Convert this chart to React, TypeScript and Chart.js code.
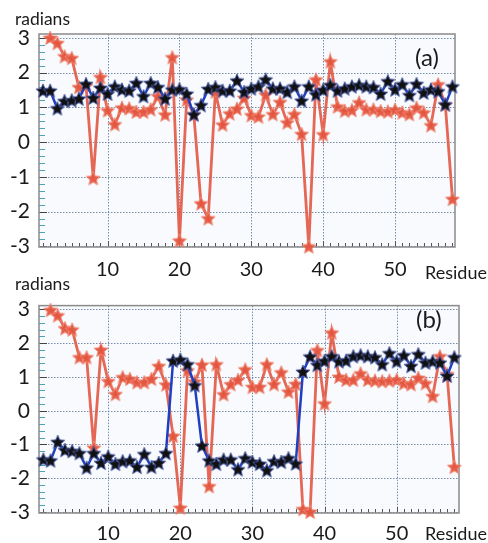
import React, { useEffect, useRef } from 'react';
import { Chart, registerables } from 'chart.js';
Chart.register(...registerables);

const residues = [1,2,3,4,5,6,7,8,9,10,11,12,13,14,15,16,17,18,19,20,21,22,23,24,25,26,27,28,29,30,31,32,33,34,35,36,37,38,39,40,41,42,43,44,45,46,47,48,49,50,51,52,53,54,55,56,57,58];

const blueA = [1.48,1.48,0.97,1.18,1.2,1.25,1.67,1.27,1.56,1.39,
  1.6,1.51,1.48,1.7,1.32,1.7,1.58,1.25,1.51,1.52,
  1.39,0.79,1.06,1.53,1.58,1.48,1.48,1.77,1.44,1.54,
  1.6,1.8,1.54,1.54,1.44,1.6,1.19,1.6,1.37,1.5,
  1.64,1.48,1.54,1.6,1.64,1.6,1.58,1.39,1.75,1.51,
  1.66,1.35,1.67,1.42,1.51,1.46,1.08,1.6];

const redA = [null,3.0,2.85,2.47,2.42,1.58,1.62,-1.04,1.87,0.91,
  0.51,0.99,0.97,0.87,0.87,0.94,1.32,0.79,2.44,-2.84,
  1.22,0.8,-1.77,-2.2,1.45,0.5,0.82,0.96,1.27,0.77,
  0.73,1.36,0.8,1.15,0.56,0.8,0.23,-3.01,1.8,0.22,
  2.32,1.02,0.9,0.92,1.14,0.94,0.94,0.89,0.88,0.93,
  0.85,0.8,0.99,0.85,0.48,1.66,1.08,-1.64];

const blueB = [-1.45,-1.48,-0.93,-1.17,-1.2,-1.26,-1.69,-1.26,-1.55,-1.36,
  -1.58,-1.5,-1.48,-1.67,-1.29,-1.67,-1.55,-1.26,1.48,1.51,
  1.37,0.75,-1.04,-1.48,-1.58,-1.45,-1.45,-1.74,-1.41,-1.52,
  -1.58,-1.77,-1.5,-1.52,-1.41,-1.57,1.15,1.6,1.35,1.47,
  1.61,1.46,1.48,1.61,1.64,1.61,1.58,1.37,1.7,1.46,
  1.64,1.32,1.67,1.42,1.46,1.42,1.03,1.58];

const redB = [null,2.98,2.82,2.44,2.4,1.58,1.58,-1.1,1.8,0.87,
  0.49,0.99,0.94,0.84,0.84,0.94,1.32,0.77,-0.75,-2.88,
  1.19,0.86,1.36,-2.24,1.37,0.48,0.78,0.91,1.22,0.7,
  0.7,1.37,0.78,1.13,0.56,0.79,-2.92,-3.0,1.79,0.21,
  2.31,1.0,0.91,0.91,1.1,0.91,0.89,0.87,0.89,0.91,
  0.81,0.78,0.97,0.81,0.43,1.61,1.08,-1.67];

const xTickValues = [10, 20, 30, 40, 50];
const yTickValues = [-3, -2, -1, 0, 1, 2, 3];

const FONT = 'Lato, "Open Sans", sans-serif';

function makeStar(size: number, fill: string, stroke: string, lw: number) {
  const c = document.createElement('canvas');
  c.width = size; c.height = size;
  const ctx = c.getContext('2d')!;
  const cx = size / 2, cy = size / 2 + 0.5;
  const R = size / 2 - lw * 0.6, r = R * 0.45;
  ctx.beginPath();
  for (let i = 0; i < 10; i++) {
    const a = -Math.PI / 2 + (i * Math.PI) / 5;
    const rad = i % 2 === 0 ? R : r;
    ctx.lineTo(cx + rad * Math.cos(a), cy + rad * Math.sin(a));
  }
  ctx.closePath();
  ctx.fillStyle = fill;
  ctx.fill();
  ctx.lineWidth = lw;
  ctx.strokeStyle = stroke;
  ctx.stroke();
  return c;
}

type PanelProps = {
  top: number; height: number;
  areaTop: number; areaBottom: number; areaRight: number;
  xmin: number; xmax: number; ymin: number; ymax: number;
  blue: number[]; red: (number | null)[];
  labelPad: number;
};

function Panel(p: PanelProps) {
  const ref = useRef<HTMLCanvasElement>(null);
  useEffect(() => {
    const redStar = makeStar(16, 'rgba(228,84,62,0.95)', 'rgba(240,140,120,0.9)', 1);
    const blackStar = makeStar(16, '#111111', 'rgba(70,90,170,0.9)', 1);
    const deco = {
      id: 'deco',
      beforeDatasetsDraw(chart: any) {
        const { ctx, chartArea, scales } = chart;
        const { left, right, top, bottom } = chartArea;
        const x = scales.x, y = scales.y;
        ctx.save();
        ctx.fillStyle = '#f8fafd';
        ctx.fillRect(left, top, right - left, bottom - top);
        ctx.strokeStyle = 'rgba(85,115,150,0.8)';
        ctx.lineWidth = 1;
        ctx.setLineDash([1.5, 1.5]);
        for (const t of y.ticks) {
          const py = Math.round(y.getPixelForValue(t.value)) + 0.5;
          ctx.beginPath(); ctx.moveTo(left, py); ctx.lineTo(right, py); ctx.stroke();
        }
        for (const t of x.ticks) {
          const px = Math.round(x.getPixelForValue(t.value)) + 0.5;
          ctx.beginPath(); ctx.moveTo(px, top); ctx.lineTo(px, bottom); ctx.stroke();
        }
        ctx.setLineDash([]);
        for (let k = -15; k <= 15; k++) {
          const v = k / 5;
          const py = Math.round(y.getPixelForValue(v)) + 0.5;
          const major = k % 5 === 0;
          ctx.strokeStyle = major ? '#444' : '#4aa3b8';
          ctx.beginPath(); ctx.moveTo(left, py); ctx.lineTo(left + (major ? 8 : 6), py); ctx.stroke();
        }
        ctx.strokeStyle = '#555';
        for (const r of residues) {
          const px = Math.round(x.getPixelForValue(r)) + 0.5;
          ctx.beginPath(); ctx.moveTo(px, bottom); ctx.lineTo(px, bottom - (r % 10 === 0 ? 6 : 4)); ctx.stroke();
        }
        ctx.strokeStyle = '#8a8a8a';
        ctx.lineWidth = 1.5;
        ctx.strokeRect(left, top, right - left, bottom - top);
        ctx.restore();
      },
    };
    const chart = new Chart(ref.current!, {
      type: 'line',
      data: {
        labels: residues,
        datasets: [
          {
            data: residues.map((r, i) => ({ x: r, y: p.blue[i] })),
            borderColor: '#1f3fc2',
            borderWidth: 2.5,
            pointStyle: blackStar as any,
            pointRadius: 7,
            clip: false as any,
            tension: 0,
          },
          {
            data: residues.map((r, i) => ({ x: r, y: p.red[i] })) as any,
            borderColor: 'rgba(226,86,66,0.9)',
            borderWidth: 2.8,
            pointStyle: redStar as any,
            pointRadius: 7,
            clip: false as any,
            tension: 0,
            spanGaps: false,
          },
        ],
      },
      options: {
        responsive: false,
        animation: false,
        events: [],
        layout: { padding: { top: p.areaTop, right: 488 - p.areaRight, left: 0, bottom: 0 } },
        plugins: { legend: { display: false }, tooltip: { enabled: false }, title: { display: false } },
        scales: {
          x: {
            type: 'linear',
            min: p.xmin,
            max: p.xmax,
            afterBuildTicks: (s: any) => { s.ticks = xTickValues.map((v) => ({ value: v })); },
            afterFit: (s: any) => { s.height = p.height - p.areaBottom; },
            grid: { display: false, drawTicks: false },
            border: { display: false },
            ticks: { padding: p.labelPad, color: '#1a1a1a', font: { size: 20, family: FONT }, maxRotation: 0, autoSkip: false },
          },
          y: {
            type: 'linear',
            min: p.ymin,
            max: p.ymax,
            afterBuildTicks: (s: any) => { s.ticks = yTickValues.map((v) => ({ value: v })); },
            afterFit: (s: any) => { s.width = 39; },
            grid: { display: false, drawTicks: false },
            border: { display: false },
            ticks: { padding: 9, color: '#1a1a1a', font: { size: 21, family: FONT } },
          },
        },
      },
      plugins: [deco],
    });
    return () => chart.destroy();
  }, []);
  return (
    <canvas
      ref={ref}
      width={488}
      height={p.height}
      style={{ position: 'absolute', left: 0, top: p.top, width: 488, height: p.height }}
    />
  );
}

const labelStyle = (left: number, top: number, size: number): React.CSSProperties => ({
  position: 'absolute', left, top, fontSize: size, lineHeight: size + 'px',
  fontFamily: FONT, color: '#1a1a1a', whiteSpace: 'nowrap',
});

export default function App() {
  return (
    <div style={{ position: 'absolute', left: 0, top: 0, width: 488, height: 543, background: '#ffffff', overflow: 'hidden' }}>
      <Panel top={0} height={284} areaTop={34} areaBottom={247} areaRight={455}
        xmin={0.45} xmax={58.35} ymin={-3.02} ymax={3.115} blue={blueA} red={redA} labelPad={11} />
      <Panel top={284} height={259} areaTop={15} areaBottom={229} areaRight={459}
        xmin={0.4} xmax={58.65} ymin={-3.03} ymax={3.115} blue={blueB} red={redB} labelPad={9} />
      <div style={labelStyle(15, 10, 17.5)}>radians</div>
      <div style={labelStyle(425, 263, 18)}>Residue</div>
      <div style={labelStyle(415, 45, 24)}>(a)</div>
      <div style={labelStyle(15, 275, 17.5)}>radians</div>
      <div style={labelStyle(425, 524, 18)}>Residue</div>
      <div style={labelStyle(416, 307, 24)}>(b)</div>
    </div>
  );
}
